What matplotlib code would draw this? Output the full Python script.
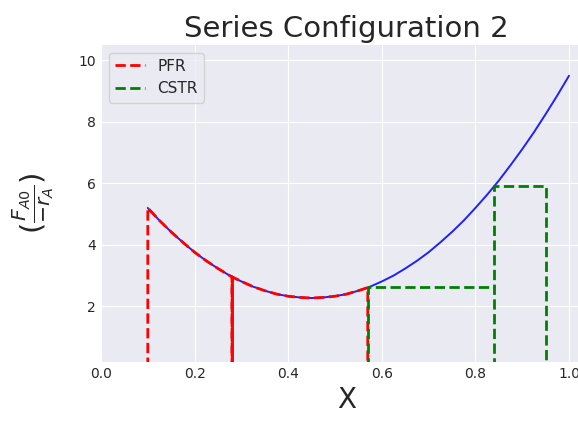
import matplotlib.pyplot as plt
import numpy as np

plt.style.use('seaborn-v0_8-darkgrid')
plt.rcParams['font.family'] = 'DejaVu Sans'
plt.rcParams['mathtext.fontset'] = 'dejavusans'

# Levenspiel curve F_A0/-r_A versus conversion X
X = np.array([0.100, 0.125, 0.150, 0.175, 0.200, 0.225, 0.250, 0.275, 0.300,
              0.325, 0.350, 0.375, 0.400, 0.425, 0.450, 0.475, 0.500, 0.525,
              0.550, 0.575, 0.600, 0.625, 0.650, 0.675, 0.700, 0.725, 0.750,
              0.775, 0.800, 0.825, 0.850, 0.875, 0.900, 0.925, 0.950, 0.975, 1.000])
F = np.array([5.20, 4.79, 4.42, 4.08, 3.76, 3.48, 3.23, 3.00, 2.81,
              2.64, 2.51, 2.40, 2.33, 2.29, 2.27, 2.29, 2.33, 2.40,
              2.51, 2.64, 2.81, 3.00, 3.23, 3.48, 3.76, 4.08, 4.42,
              4.79, 5.20, 5.63, 6.09, 6.59, 7.11, 7.66, 8.25, 8.86, 9.50])

# PFR reactors: conversion bounds and curve heights at the bounds
pfr_bounds = [0.10, 0.28, 0.57]
pfr_heights = [5.20, 2.96, 2.61]

# CSTR reactors: conversion bounds and rectangle heights
cstr_bounds = [0.57, 0.84, 0.95]
cstr_heights = [2.62, 5.90]

fig = plt.figure(figsize=(5.78, 4.23), dpi=100)
ax = fig.add_axes([101/578, 61.3/423, 491.4/578, 316.7/423])

ax.plot(X, F, c='#2020ff', lw=1.4, zorder=2)

for i in range(len(pfr_bounds)-1):
    x0, x1 = pfr_bounds[i], pfr_bounds[i+1]
    m = (X > x0) & (X < x1)
    xs = np.concatenate(([x0, x0], X[m], [x1, x1]))
    ys = np.concatenate(([0., pfr_heights[i]], F[m], [pfr_heights[i+1], 0.]))
    ax.plot(xs, ys, c='r', ls='--', lw=2, zorder=3,
            label='PFR' if i == 0 else None)
# shared wall between the two PFRs: both dashed lines overlap there
for i in range(1, len(pfr_bounds)-1):
    ax.plot([pfr_bounds[i], pfr_bounds[i]], [0., pfr_heights[i]], c='r', lw=2, zorder=3)

ax.plot([cstr_bounds[0], cstr_bounds[0], cstr_bounds[1]],
        [0., cstr_heights[0], cstr_heights[0]], c='g', ls='--', lw=2, zorder=4, label='CSTR')
ax.plot([cstr_bounds[1], cstr_bounds[1], cstr_bounds[2], cstr_bounds[2]],
        [0., cstr_heights[1], cstr_heights[1], 0.], c='g', ls='--', lw=2, zorder=4)

ax.set_xlim(0, 1.05)
ax.set_ylim(0.2, 10.5)
ax.set_xticks([0.0, 0.2, 0.4, 0.6, 0.8, 1.0])
ax.set_yticks([2, 4, 6, 8, 10])
ax.tick_params(labelsize=10, colors='.15')

ax.set_title('Series Configuration 2', fontsize=21, color='.15')
ax.set_xlabel('X', fontsize=20, color='.15')
ax.set_ylabel(r'$(\frac{F_{A0}}{-r_A})$', fontsize=21, color='.15', labelpad=16)
leg = ax.legend(loc='upper left', fontsize=11, frameon=True)
for t in leg.get_texts():
    t.set_color('.15')

plt.savefig('out.png', dpi=100)
